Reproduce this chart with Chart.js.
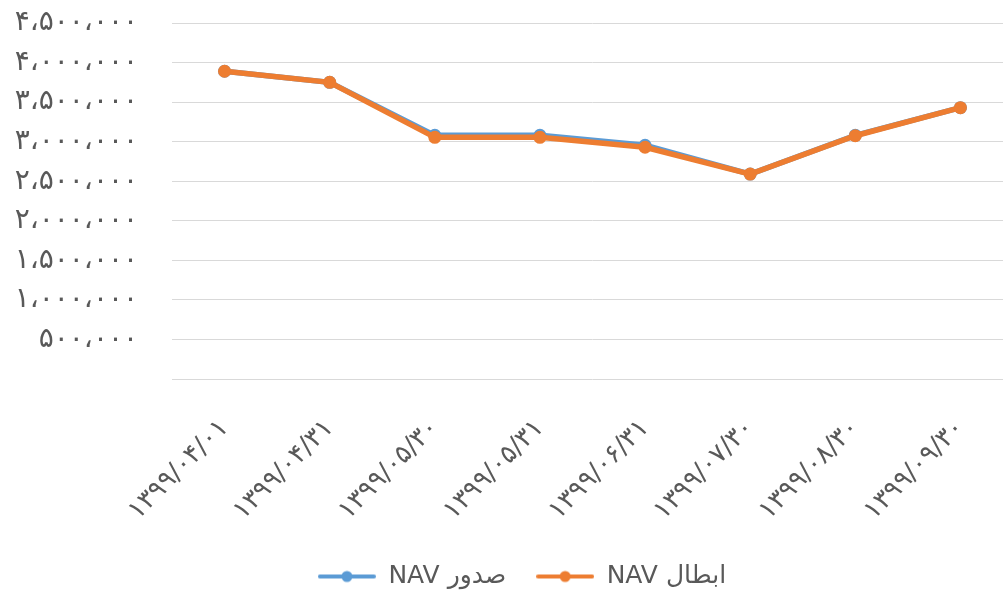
<!DOCTYPE html>
<html>
<head>
<meta charset="utf-8">
<script src="https://cdn.jsdelivr.net/npm/chart.js@4.4.0/dist/chart.umd.min.js"></script>
<style>
  html, body { margin: 0; padding: 0; background: #fff; overflow: hidden; }
  #wrap { width: 1044px; height: 596px; }
</style>
</head>
<body>
<div id="wrap"><canvas id="navChart" width="1044" height="596"></canvas></div>
<script>
// Dates (Jalali) and NAV values
const categories = ['۱۳۹۹/۰۴/۰۱', '۱۳۹۹/۰۴/۳۱', '۱۳۹۹/۰۵/۳۰', '۱۳۹۹/۰۵/۳۱', '۱۳۹۹/۰۶/۳۱', '۱۳۹۹/۰۷/۳۰', '۱۳۹۹/۰۸/۳۰', '۱۳۹۹/۰۹/۳۰'];
const issueNav = [3890000, 3750000, 3080000, 3080000, 2955000, 2590000, 3080000, 3430000];
const redeemNav = [3890000, 3750000, 3055000, 3055000, 2930000, 2590000, 3075000, 3430000];
const seriesNames = ['NAV صدور', 'NAV ابطال'];
const yMin = 0, yMax = 4500000, yStep = 500000;

const BLUE = '#5B9BD5';
const ORANGE = '#ED7D31';
const TEXT = '#595959';
const FONT = 'DejaVu Sans';

// 1234567 -> ۱،۲۳۴،۵۶۷ , zero line has no label
const toPersian = (v) => {
    if (v === 0) return '';
    const s = String(Math.round(v)).replace(/\B(?=(\d{3})+(?!\d))/g, '،');
    return s.replace(/\d/g, d => '۰۱۲۳۴۵۶۷۸۹'[d]);
};

// legend marker: line with a dot in the middle
const makeMarker = (color) => {
    const c = document.createElement('canvas');
    c.width = 58; c.height = 14;
    const g = c.getContext('2d');
    g.strokeStyle = color;
    g.lineWidth = 4;
    g.lineCap = 'round';
    g.beginPath(); g.moveTo(2, 7); g.lineTo(56, 7); g.stroke();
    g.fillStyle = color;
    g.beginPath(); g.arc(29, 7, 5.5, 0, Math.PI * 2); g.fill();
    return c;
};
const markers = [makeMarker(BLUE), makeMarker(ORANGE)];

// the picture is cut on the right, so centre the legend on the visible part
const legendShift = {
    id: 'legendShift',
    afterLayout: (chart) => {
        chart.legend.left = 31;
        chart.legend.top += 3;
        chart.legend.bottom += 3;
    }
};

const ctx = document.getElementById('navChart').getContext('2d');
new Chart(ctx, {
    type: 'line',
    data: {
        labels: categories,
        datasets: [
            {
                label: seriesNames[0],
                data: issueNav,
                borderColor: BLUE,
                backgroundColor: BLUE,
                borderWidth: 5.5,
                pointRadius: 6.5,
                pointBorderWidth: 0,
                order: 1
            },
            {
                label: seriesNames[1],
                data: redeemNav,
                borderColor: ORANGE,
                backgroundColor: ORANGE,
                borderWidth: 5.5,
                pointRadius: 6.5,
                pointBorderWidth: 0,
                order: 0
            }
        ]
    },
    plugins: [legendShift],
    options: {
        responsive: false,
        animation: false,
        layout: { padding: { top: 23, right: 31, bottom: 0, left: 0 } },
        plugins: {
            tooltip: { enabled: false },
            legend: {
                position: 'bottom',
                labels: {
                    color: TEXT,
                    font: { family: FONT, size: 25 },
                    usePointStyle: true,
                    pointStyleWidth: 58,
                    padding: 30,
                    generateLabels: (chart) => chart.data.datasets.map((ds, i) => ({
                        text: ds.label,
                        fillStyle: ds.borderColor,
                        strokeStyle: ds.borderColor,
                        fontColor: TEXT,
                        lineWidth: 0,
                        pointStyle: markers[i],
                        datasetIndex: i,
                        hidden: false
                    }))
                }
            }
        },
        scales: {
            x: {
                offset: true,
                grid: { display: false },
                border: { display: false },
                afterFit: (scale) => { scale.height -= 21.5; },
                ticks: {
                    color: TEXT,
                    font: { family: FONT, size: 26 },
                    minRotation: 45,
                    maxRotation: 45,
                    padding: 26
                }
            },
            y: {
                min: yMin,
                max: yMax,
                grid: { color: '#D9D9D9', lineWidth: 1, tickLength: 34, tickColor: 'rgba(0,0,0,0)' },
                border: { display: false },
                afterFit: (scale) => { scale.width = 172; },
                ticks: {
                    stepSize: yStep,
                    color: TEXT,
                    font: { family: FONT, size: 28 },
                    padding: 0,
                    callback: (v) => toPersian(v)
                }
            }
        }
    }
});
</script>
</body>
</html>
